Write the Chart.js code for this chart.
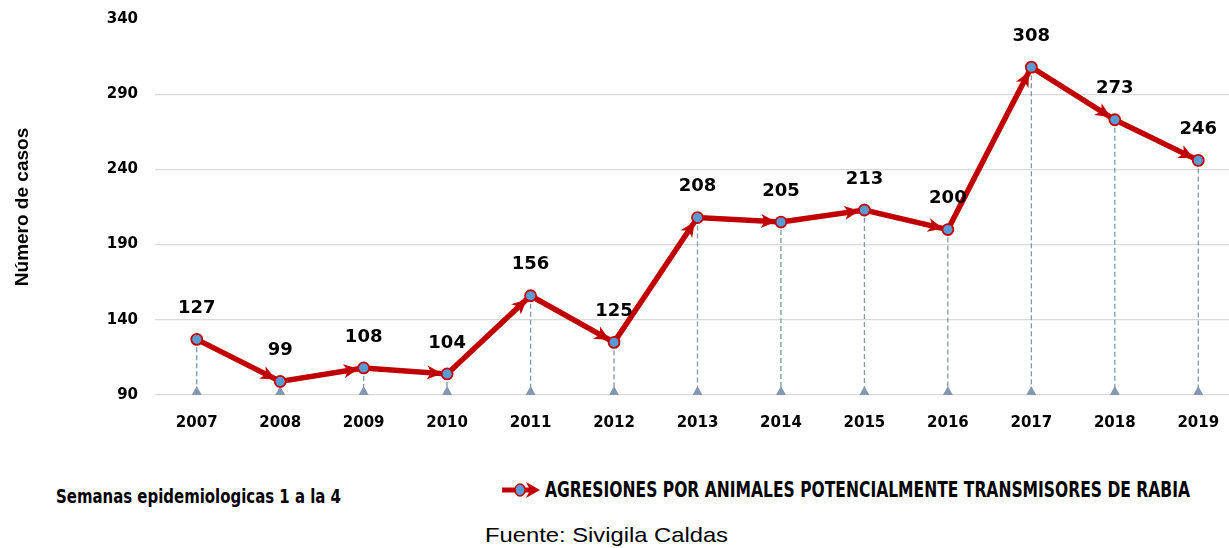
<!DOCTYPE html>
<html>
<head>
<meta charset="utf-8">
<script src="https://cdn.jsdelivr.net/npm/chart.js@4.4.1/dist/chart.umd.min.js"></script>
<style>
  html, body { margin: 0; padding: 0; background: #fff; overflow: hidden; width: 1229px; height: 548px; }
  #wrap { position: absolute; left: 0; top: -7px; width: 1240px; height: 451px; }
  .nar { font-family: 'DejaVu Sans', sans-serif; font-weight: bold; color: #000; white-space: nowrap; }
  .ajuste { display: inline-block; transform-origin: 0 50%; }
  #semanas { position: absolute; left: 56px; top: 485px; font-size: 19px; }
  #leyenda { position: absolute; left: 500px; top: 477px; display: flex; align-items: center; }
  #leyenda svg { margin-right: 3px; }
  #leyenda .ajuste { font-size: 22px; }
  #fuente { position: absolute; left: 485px; top: 523px; font-family: 'Liberation Sans', Arial, sans-serif; font-size: 21px; color: #000; white-space: nowrap; }
</style>
</head>
<body>
<div id="wrap"><canvas id="grafico"></canvas></div>
<div id="semanas" class="nar"><span class="ajuste" data-w="285">Semanas epidemiologicas 1 a la 4</span></div>
<div id="leyenda" class="nar">
  <svg width="42" height="20" viewBox="0 0 42 20">
    <line x1="2" y1="10" x2="32" y2="10" stroke="#c00000" stroke-width="5"/>
    <polygon points="26,2 40,10 26,18 30,10" fill="#c00000"/>
    <ellipse cx="20" cy="10" rx="5" ry="6" fill="#5b9bd5" stroke="#c00000" stroke-width="1.5"/>
  </svg>
  <span class="ajuste" data-w="645">AGRESIONES POR ANIMALES POTENCIALMENTE TRANSMISORES DE RABIA</span>
</div>
<div id="fuente"><span class="ajuste" data-w="243">Fuente: Sivigila Caldas</span></div>

<script>
// datos del grafico
const anios = ['2007', '2008', '2009', '2010', '2011', '2012', '2013', '2014', '2015', '2016', '2017', '2018', '2019']
const casos = [127, 99, 108, 104, 156, 125, 208, 205, 213, 200, 308, 273, 246]
const ticksY = [90, 140, 190, 240, 290, 340]

const rojo = '#c00000'
const azul = '#5b9bd5'
const grisAzul = '#8497b0'
const fuenteEje = "'DejaVu Sans', sans-serif"

// ajustar el ancho de los textos de abajo
document.querySelectorAll('.ajuste').forEach(el => {
    const w = el.getBoundingClientRect().width
    el.style.transform = 'scaleX(' + (Number(el.dataset.w) / w) + ')'
})

// lineas punteadas hasta el eje y triangulos en la base
const lineasCaida = {
    id: 'lineasCaida',
    beforeDatasetsDraw(chart) {
        const ctx = chart.ctx
        const meta = chart.getDatasetMeta(0)
        const base = chart.scales.y.getPixelForValue(ticksY[0])
        ctx.save()
        ctx.strokeStyle = grisAzul
        ctx.lineWidth = 1.3
        ctx.setLineDash([5, 3])
        meta.data.forEach(p => {
            ctx.beginPath()
            ctx.moveTo(p.x, p.y)
            ctx.lineTo(p.x, base)
            ctx.stroke()
        })
        ctx.setLineDash([])
        ctx.fillStyle = grisAzul
        meta.data.forEach(p => {
            ctx.beginPath()
            ctx.moveTo(p.x, base - 9)
            ctx.lineTo(p.x + 5, base)
            ctx.lineTo(p.x - 5, base)
            ctx.closePath()
            ctx.fill()
        })
        ctx.restore()
    }
}

// puntas de flecha y etiquetas de valores
const flechasEtiquetas = {
    id: 'flechasEtiquetas',
    afterDatasetsDraw(chart) {
        const ctx = chart.ctx
        const meta = chart.getDatasetMeta(0)
        const pts = meta.data
        ctx.save()
        ctx.fillStyle = rojo
        for (let i = 1; i < pts.length; i++) {
            const a = pts[i - 1], b = pts[i]
            const ang = Math.atan2(b.y - a.y, b.x - a.x)
            const tipX = b.x - Math.cos(ang) * 5
            const tipY = b.y - Math.sin(ang) * 5
            ctx.save()
            ctx.translate(tipX, tipY)
            ctx.rotate(ang)
            ctx.beginPath()
            ctx.moveTo(0, 0)
            ctx.lineTo(-15, -7)
            ctx.lineTo(-11, 0)
            ctx.lineTo(-15, 7)
            ctx.closePath()
            ctx.fill()
            ctx.restore()
        }
        // puntos encima de las flechas
        pts.forEach(p => {
            ctx.beginPath()
            ctx.arc(p.x, p.y, 5.5, 0, Math.PI * 2)
            ctx.fillStyle = azul
            ctx.fill()
            ctx.lineWidth = 1.8
            ctx.strokeStyle = rojo
            ctx.stroke()
        })
        ctx.fillStyle = '#000'
        ctx.font = 'bold 18px ' + fuenteEje
        ctx.textAlign = 'center'
        ctx.textBaseline = 'middle'
        pts.forEach((p, i) => {
            ctx.fillText(String(casos[i]), p.x, p.y - 31)
        })
        ctx.restore()
    }
}

const config = {
    type: 'line',
    data: {
        labels: anios,
        datasets: [{
            label: 'AGRESIONES POR ANIMALES POTENCIALMENTE TRANSMISORES DE RABIA',
            data: casos,
            borderColor: rojo,
            borderWidth: 5.5,
            pointRadius: 0,
            tension: 0
        }]
    },
    options: {
        responsive: false,
        animation: false,
        devicePixelRatio: 1,
        layout: { padding: { top: 9, right: 0, left: 0, bottom: 0 } },
        plugins: {
            legend: { display: false },
            tooltip: { enabled: false }
        },
        scales: {
            x: {
                offset: true,
                grid: { display: false, drawTicks: false },
                border: { display: false },
                ticks: {
                    color: '#000',
                    padding: 19,
                    font: { family: fuenteEje, weight: 'bold', size: 15 }
                },
                afterFit(scale) { scale.height = 49 }
            },
            y: {
                min: 90,
                max: 340,
                afterBuildTicks(scale) { scale.ticks = ticksY.map(v => ({ value: v })) },
                grid: {
                    color: ctx => (ctx.tick && ctx.tick.value === 340) ? 'rgba(0,0,0,0)' : '#d9d9d9',
                    lineWidth: 1.3,
                    drawTicks: false
                },
                border: { display: false },
                ticks: {
                    color: '#000',
                    padding: 17,
                    font: { family: fuenteEje, weight: 'bold', size: 15 }
                },
                title: {
                    display: true,
                    text: 'Número de casos',
                    color: '#000',
                    padding: { top: 11, bottom: 0 },
                    font: { family: "'Liberation Sans', Arial, sans-serif", weight: 'bold', size: 19 }
                },
                afterFit(scale) { scale.width = 155 }
            }
        }
    },
    plugins: [lineasCaida, flechasEtiquetas]
}

const cv = document.getElementById('grafico')
cv.width = 1240
cv.height = 451
const miGrafico = new Chart(cv, config)
</script>
</body>
</html>
